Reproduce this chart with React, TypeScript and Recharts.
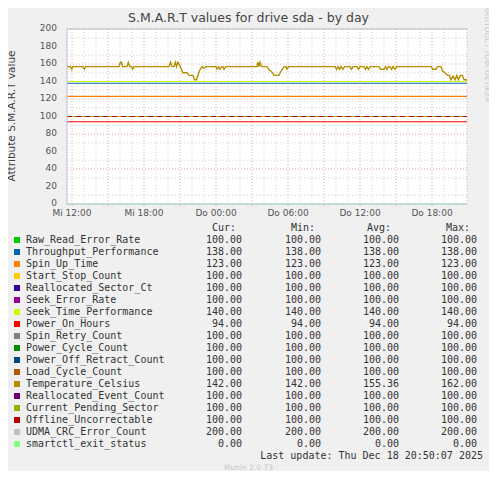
import { LineChart, Line, XAxis, YAxis, CartesianGrid, ReferenceLine } from 'recharts'

// hours since Mi 00:00
const HOURS = [
  11.58, 11.88, 11.98, 12.08, 12.92, 13.03, 13.13, 15.92, 16.04, 16.13, 16.21, 16.58, 16.69, 16.81,
  16.96, 17.06, 17.17, 20.08, 20.21, 20.33, 20.5, 20.61, 20.71, 20.81, 20.92, 21.08, 21.25, 21.58,
  21.75, 22.08, 22.21, 22.38, 22.61, 22.83, 23.0, 23.13, 24.0, 24.08, 24.21, 24.33, 24.48, 24.58,
  24.67, 24.81, 27.42, 27.5, 27.58, 27.67, 27.79, 28.25, 28.44, 28.71, 28.83, 29.25, 29.42, 29.67,
  29.83, 29.92, 30.04, 33.92, 34.04, 34.17, 34.29, 34.42, 34.58, 34.71, 35.17, 35.29, 35.42, 35.75,
  35.88, 36.0, 36.33, 36.46, 36.58, 36.71, 36.83, 37.58, 37.71, 38.0, 38.13, 38.25, 38.38, 38.5,
  38.63, 38.75, 38.92, 39.04, 41.96, 42.04, 42.33, 42.46, 42.75, 42.88, 43.08, 43.29, 43.46, 43.58,
  43.75, 43.92, 44.06, 44.21, 44.36, 44.54, 44.67, 44.92,
]

const TEMPERATURE = [
  157, 157, 154, 157, 157, 154, 157, 157, 162, 162, 157, 157, 162, 157,
  157, 154, 157, 157, 162, 157, 157, 162, 157, 162, 160, 155, 150, 150,
  147, 147, 142, 142, 152, 157, 155, 157, 157, 154, 157, 154, 157, 157,
  154, 157, 157, 162, 157, 162, 157, 157, 153, 150, 147, 147, 152, 157,
  157, 154, 157, 157, 154, 157, 154, 157, 154, 157, 157, 154, 157, 157,
  154, 157, 157, 154, 157, 154, 157, 157, 154, 154, 157, 154, 157, 157,
  154, 157, 154, 157, 157, 154, 154, 157, 157, 152, 150, 147, 147, 142,
  146, 142, 147, 142, 147, 147, 142, 142,
]

const NAMES = [
  'Raw_Read_Error_Rate', 'Throughput_Performance', 'Spin_Up_Time', 'Start_Stop_Count',
  'Reallocated_Sector_Ct', 'Seek_Error_Rate', 'Seek_Time_Performance', 'Power_On_Hours',
  'Spin_Retry_Count', 'Power_Cycle_Count', 'Power_Off_Retract_Count', 'Load_Cycle_Count',
  'Temperature_Celsius', 'Reallocated_Event_Count', 'Current_Pending_Sector',
  'Offline_Uncorrectable', 'UDMA_CRC_Error_Count', 'smartctl_exit_status',
]

const COLORS = [
  '#00cc00', '#0066b3', '#ff8000', '#ffcc00', '#330099', '#990099', '#ccff00', '#ff0000',
  '#808080', '#008f00', '#00487d', '#b35a00', '#b38f00', '#6b006b', '#8fb300', '#b30000',
  '#bebebe', '#80ff80',
]

const CUR = [100, 138, 123, 100, 100, 100, 140, 94, 100, 100, 100, 100, 142, 100, 100, 100, 200, 0]
const MIN = [100, 138, 123, 100, 100, 100, 140, 94, 100, 100, 100, 100, 142, 100, 100, 100, 200, 0]
const AVG = [100, 138, 123, 100, 100, 100, 140, 94, 100, 100, 100, 100, 155.36, 100, 100, 100, 200, 0]
const MAX = [100, 138, 123, 100, 100, 100, 140, 94, 100, 100, 100, 100, 162, 100, 100, 100, 200, 0]

const X_TICKS = [12, 15, 18, 21, 24, 27, 30, 33, 36, 39, 42]
const X_LABELS: Record<number, string> = {
  12: 'Mi 12:00', 18: 'Mi 18:00', 24: 'Do 00:00', 30: 'Do 06:00', 36: 'Do 12:00', 42: 'Do 18:00',
}
const Y_TICKS = [0, 20, 40, 60, 80, 100, 120, 140, 160, 180, 200]
const Y_MINOR = [10, 30, 50, 70, 90, 110, 130, 150, 170, 190]
const X_MINOR = [13, 14, 16, 17, 19, 20, 22, 23, 25, 26, 28, 29, 31, 32, 34, 35, 37, 38, 40, 41, 43, 44]

const TEMP_INDEX = NAMES.indexOf('Temperature_Celsius')

const data = HOURS.map((h, i) => {
  const row: Record<string, number> = { h }
  NAMES.forEach((n, k) => {
    row[n] = k === TEMP_INDEX ? TEMPERATURE[i] : CUR[k]
  })
  return row
})

const sans = 'DejaVu Sans, sans-serif'
const mono = 'DejaVu Sans Mono, monospace'

export default function App() {
  return (
    <div style={{ position: 'relative', width: 497, height: 479, margin: -8, background: '#f0f0f0', overflow: 'hidden' }}>
      <div style={{ position: 'absolute', top: 10, left: 0, width: 497, textAlign: 'center', fontFamily: sans, fontSize: 12.5, color: '#444' }}>
        S.M.A.R.T values for drive sda - by day
      </div>
      <div style={{ position: 'absolute', left: 11, top: 116, transform: 'translate(-50%, -50%) rotate(-90deg)', whiteSpace: 'nowrap', fontFamily: sans, fontSize: 10.5, color: '#444' }}>
        Attribute S.M.A.R.T value
      </div>
      <div style={{ position: 'absolute', left: 487, top: 54, transform: 'translate(-50%, -50%) rotate(90deg)', whiteSpace: 'nowrap', fontFamily: sans, fontSize: 7.5, color: '#c8c8c8' }}>
        RRDTOOL / TOBI OETIKER
      </div>
      <LineChart width={497} height={479} data={data} margin={{ top: 29, right: 30, bottom: 255, left: 0 }}>
        <CartesianGrid fill="#ffffff" stroke="none" />
        {Y_MINOR.map((v) => (
          <ReferenceLine key={'y' + v} y={v} stroke="#cfcfcf" strokeDasharray="1 2" />
        ))}
        {X_MINOR.map((v) => (
          <ReferenceLine key={'x' + v} x={v} stroke="#cfcfcf" strokeDasharray="1 2" />
        ))}
        <CartesianGrid stroke="#e8a8a8" strokeDasharray="1 2" />
        <XAxis
          dataKey="h"
          type="number"
          domain={[11.583, 44.917]}
          ticks={X_TICKS}
          tickFormatter={(v: number) => X_LABELS[v] ?? ''}
          allowDataOverflow
          height={20}
          stroke="#c6c6f0"
          tickSize={2}
          tickMargin={4}
          tick={{ fontFamily: sans, fontSize: 9, fill: '#555' }}
        />
        <YAxis
          domain={[0, 200]}
          ticks={Y_TICKS}
          width={67}
          stroke="#c6c6f0"
          tickLine={false}
          tickMargin={4}
          tick={{ fontFamily: sans, fontSize: 9, fill: '#555', dy: -1 }}
        />
        {NAMES.map((n, k) => (
          <Line
            key={n}
            dataKey={n}
            stroke={COLORS[k]}
            strokeWidth={k === TEMP_INDEX ? 1.4 : 1.2}
            strokeDasharray={n === 'Offline_Uncorrectable' ? '5 4' : undefined}
            dot={false}
            isAnimationActive={false}
          />
        ))}
      </LineChart>

      <div style={{ position: 'absolute', top: 222, left: 0, width: 497, fontFamily: mono, fontSize: 10, color: '#333', lineHeight: '12px' }}>
        <div style={{ position: 'relative', height: 12 }}>
          {['Cur:', 'Min:', 'Avg:', 'Max:'].map((t, j) => (
            <span key={t} style={{ position: 'absolute', right: 497 - [236, 315, 391, 470][j], top: 0 }}>{t}</span>
          ))}
        </div>
        {NAMES.map((n, k) => (
          <div key={n} style={{ position: 'relative', height: 12 }}>
            <span style={{ position: 'absolute', left: 14, top: 3, width: 6, height: 6, background: COLORS[k] }} />
            <span style={{ position: 'absolute', left: 26, top: 0 }}>{n}</span>
            {[CUR[k], MIN[k], AVG[k], MAX[k]].map((v, j) => (
              <span key={j} style={{ position: 'absolute', right: 497 - [242, 321, 399, 477][j], top: 0 }}>{v.toFixed(2)}</span>
            ))}
          </div>
        ))}
        <div style={{ position: 'relative', height: 12 }}>
          <span style={{ position: 'absolute', right: 14, top: 0 }}>Last update: Thu Dec 18 20:50:07 2025</span>
        </div>
      </div>
      <div style={{ position: 'absolute', top: 463, left: 0, width: 497, textAlign: 'center', fontFamily: sans, fontSize: 7.5, color: '#c8c8c8' }}>
        Munin 2.0.73
      </div>
    </div>
  )
}
